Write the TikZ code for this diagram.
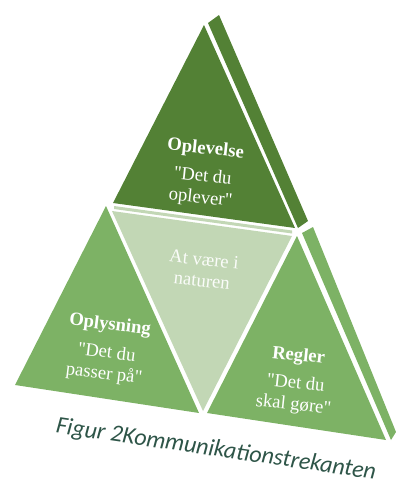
\documentclass[tikz,border=0pt]{standalone}
\usepackage{fontspec}
\setmainfont{Liberation Serif}[Ligatures=TeXOff]
\newfontfamily\capfont{Carlito}
\definecolor{dk}{HTML}{538135}
\definecolor{lg}{HTML}{7DB265}
\definecolor{pg}{HTML}{C2D7B5}
\definecolor{capc}{HTML}{2E5548}
\tikzset{
  lbl/.style={text=white, align=center, font=\fontsize{14}{16}\selectfont, inner sep=0pt},
  captext/.style={text=capc, font=\capfont\itshape\fontsize{18}{20}\selectfont, inner sep=0pt}
}
\begin{document}
\begin{tikzpicture}[x=0.75pt,y=-0.75pt]
\useasboundingbox (0,0) rectangle (396,483);
% top dark triangle and its side
\fill[dk] (204,25) -- (113,203) -- (295,228) -- cycle;
\fill[dk] (208,23) -- (219,15) -- (308,221) -- (298,228) -- cycle;
% pale strip and middle triangle
\fill[pg] (114,206) -- (292,230.5) -- (292,233.5) -- (114,209) -- cycle;
\fill[pg] (112,211) -- (292,236) -- (203,411) -- cycle;
% left triangle
\fill[lg] (106,206) -- (15,385) -- (199,413) -- cycle;
% right triangle and its side
\fill[lg] (297,236) -- (207,413) -- (386,440) -- cycle;
\fill[lg] (302,233) -- (313,227) -- (396,432) -- (391,440) -- cycle;
% labels
\node[lbl, rotate=-6] (top) at (203,174) {\textbf{Oplevelse}\\[5pt]"Det du\\oplever"};
\node[lbl, rotate=-6, text=white!92!pg] (mid) at (203,270) {At være i\\naturen};
\node[lbl, rotate=-7] (left) at (107,350) {\textbf{Oplysning}\\[5pt]"Det du\\passer på"};
\node[lbl, rotate=-6] (right) at (296,381) {\textbf{Regler}\\[5pt]"Det du\\skal gøre"};
\node[captext, rotate=-8.3] (caption) at (216,450) {Figur 2Kommunikationstrekanten};
\end{tikzpicture}
\end{document}
